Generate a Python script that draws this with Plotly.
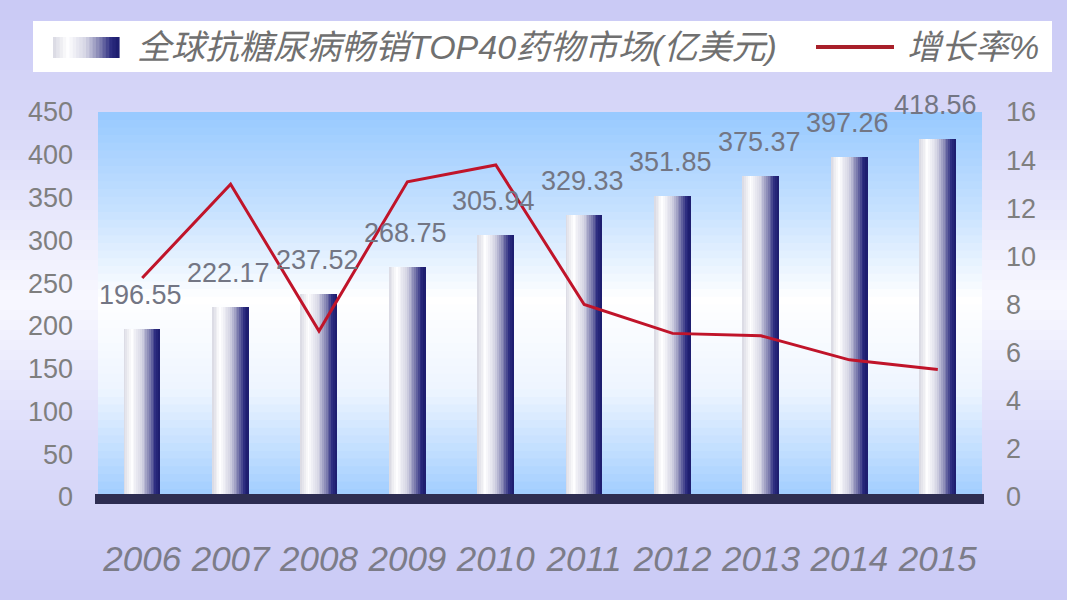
import plotly.graph_objects as go

# ---------------- data ----------------
years = ["2006", "2007", "2008", "2009", "2010", "2011", "2012", "2013", "2014", "2015"]
market = [196.55, 222.17, 237.52, 268.75, 305.94, 329.33, 351.85, 375.37, 397.26, 418.56]
growth = [9.1, 13.0, 6.9, 13.1, 13.8, 8.0, 6.8, 6.7, 5.7, 5.3]
left_ticks = [0, 50, 100, 150, 200, 250, 300, 350, 400, 450]
right_ticks = [0, 2, 4, 6, 8, 10, 12, 14, 16]
bar_name = "全球抗糖尿病畅销TOP40药物市场(亿美元)"
line_name = "增长率%"

# ---------------- geometry ----------------
W, H = 1067, 600
L, R, T, B = 98, 982, 112, 497  # plot area in pixels


def px(x):
    return (x - L) / (R - L)


def py(y):
    return (B - y) / (B - T)


def hex2rgb(h):
    h = h.lstrip("#")
    return tuple(int(h[i:i + 2], 16) for i in (0, 2, 4))


def interp(stops, t):
    for (t0, c0), (t1, c1) in zip(stops, stops[1:]):
        if t0 <= t <= t1:
            f = 0 if t1 == t0 else (t - t0) / (t1 - t0)
            a, b = hex2rgb(c0), hex2rgb(c1)
            return "rgb(%d,%d,%d)" % tuple(round(a[i] + (b[i] - a[i]) * f) for i in range(3))
    return "rgb(%d,%d,%d)" % hex2rgb(stops[-1][1])


shapes = []

# page background gradient (vertical)
page_stops = [(0, "#c9c9f5"), (150, "#dcdcf9"), (300, "#f8f8ff"), (430, "#dedefa"), (600, "#c9c9f5")]
N = 60
for i in range(N):
    y0 = H * i / N
    y1 = H * (i + 1) / N + 1
    shapes.append(dict(type="rect", xref="paper", yref="paper", layer="below",
                       x0=px(0), x1=px(W), y0=py(y1), y1=py(y0),
                       fillcolor=interp(page_stops, (y0 + y1) / 2), line=dict(width=0)))

# plot area gradient
plot_stops = [(112, "#97c9ff"), (210, "#c6e1ff"), (300, "#ffffff"), (390, "#eef5ff"), (497, "#a0cdff")]
N2 = 50
for i in range(N2):
    y0 = T + (B - T) * i / N2
    y1 = T + (B - T) * (i + 1) / N2 + 1
    shapes.append(dict(type="rect", xref="paper", yref="paper", layer="below",
                       x0=0, x1=1, y0=py(min(y1, B)), y1=py(y0),
                       fillcolor=interp(plot_stops, (y0 + y1) / 2), line=dict(width=0)))

# hatched floor band
shapes.append(dict(type="rect", xref="paper", yref="paper", layer="above",
                   x0=px(95), x1=px(984), y0=py(504), y1=py(494),
                   fillcolor="#2e2e52", line=dict(width=0)))

# legend box
shapes.append(dict(type="rect", xref="paper", yref="paper", layer="above",
                   x0=px(33), x1=px(1052), y0=py(72), y1=py(21),
                   fillcolor="white", line=dict(width=0)))

bar_stops = [(0.0, "#d8d8e2"), (0.22, "#ffffff"), (0.5, "#d4d4e4"), (0.72, "#7c7cae"), (0.88, "#2c2c80"), (1.0, "#1a1a6c")]

# legend gradient symbol
NS = 20
for i in range(NS):
    x0 = 53 + (119 - 53) * i / NS
    x1 = 53 + (119 - 53) * (i + 1) / NS + 0.6
    shapes.append(dict(type="rect", xref="paper", yref="paper", layer="above",
                       x0=px(x0), x1=px(x1), y0=py(58), y1=py(37),
                       fillcolor=interp(bar_stops, (i + 0.5) / NS), line=dict(width=0)))
# legend red line
shapes.append(dict(type="line", xref="paper", yref="paper", layer="above",
                   x0=px(816), x1=px(894), y0=py(47), y1=py(47),
                   line=dict(color="#a8202a", width=4)))

fig = go.Figure()

# bars drawn as gradient slices
bw = 0.41
NB = 20
sw = bw / NB
for i in range(NB):
    fig.add_trace(go.Bar(
        x=years, y=market, width=sw * 1.08, offset=-bw / 2 + i * sw,
        marker=dict(color=interp(bar_stops, (i + 0.5) / NB), line=dict(width=0)),
        showlegend=False, name=bar_name,
    ))

# growth line
fig.add_trace(go.Scatter(
    x=years, y=growth, yaxis="y2", mode="lines", name=line_name,
    line=dict(color="#c0142a", width=3), showlegend=False,
))

annotations = []
for idx, v in enumerate(market):
    annotations.append(dict(x=idx, y=v, xref="x", yref="y", text=f"{v:.2f}",
                            showarrow=False, yshift=34, xshift=-2,
                            font=dict(family="Arial, Liberation Sans, sans-serif", size=27, color="#737684")))

annotations.append(dict(xref="paper", yref="paper", x=px(135), y=py(47), xanchor="left", yanchor="middle",
                        text=bar_name, showarrow=False,
                        font=dict(family="Liberation Sans, Noto Sans CJK SC, sans-serif", size=34,
                                  color="#707070", style="italic")))
annotations.append(dict(xref="paper", yref="paper", x=px(905), y=py(47), xanchor="left", yanchor="middle",
                        text=line_name, showarrow=False,
                        font=dict(family="Liberation Sans, Noto Sans CJK SC, sans-serif", size=34,
                                  color="#707070", style="italic")))

fig.update_layout(
    width=W, height=H,
    margin=dict(l=L, r=W - R, t=T, b=H - B, pad=0),
    paper_bgcolor="#d6d6f8",
    plot_bgcolor="rgba(0,0,0,0)",
    barmode="overlay",
    bargap=0,
    showlegend=False,
    hovermode=False,
    shapes=shapes,
    annotations=annotations,
    xaxis=dict(
        type="category", categoryorder="array", categoryarray=years,
        range=[-0.5, 9.5], showgrid=False, zeroline=False, showline=False,
        ticks="", ticklabelstandoff=38,
        tickfont=dict(family="Arial, Liberation Sans, sans-serif", size=35, color="#7c7c88", style="italic"),
    ),
    yaxis=dict(
        range=[0, 450], tickvals=left_ticks, showgrid=False, zeroline=False, showline=False,
        ticks="", ticklabelstandoff=24,
        tickfont=dict(family="Arial, Liberation Sans, sans-serif", size=27, color="#7f7f7f"),
    ),
    yaxis2=dict(
        range=[0, 16], tickvals=right_ticks, overlaying="y", side="right",
        showgrid=False, zeroline=False, showline=False,
        ticks="", ticklabelstandoff=23,
        tickfont=dict(family="Arial, Liberation Sans, sans-serif", size=27, color="#7f7f7f"),
    ),
)

fig.write_html("out.html",
               config={"displayModeBar": False},
               post_script="document.body.style.margin='0';document.body.style.overflow='hidden';")
